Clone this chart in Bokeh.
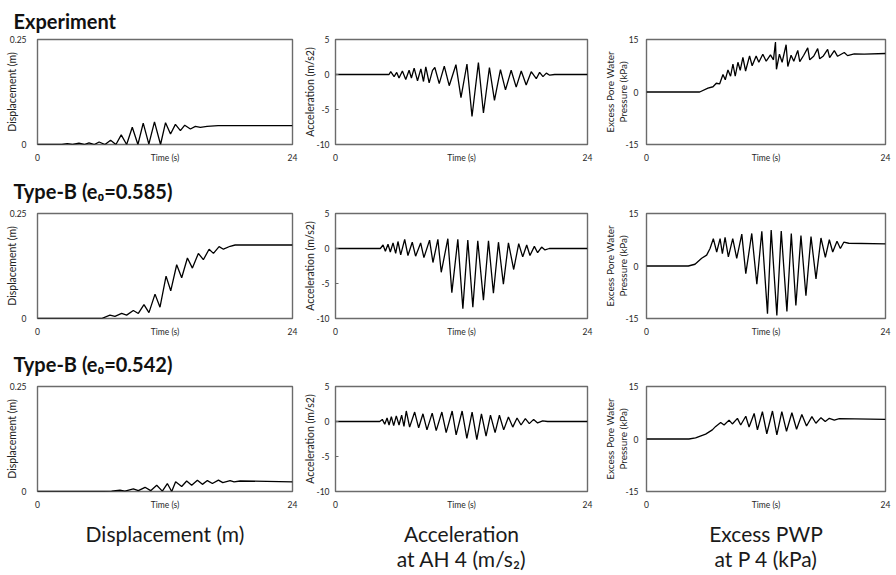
from bokeh.plotting import figure
from bokeh.layouts import column, row
from bokeh.models import Range1d, FixedTicker, Title
from bokeh.embed import file_html
from bokeh.resources import INLINE

# ---------------- data ----------------
row_titles = ["Experiment", "Type-B (e\u2080=0.585)", "Type-B (e\u2080=0.542)"]
col_footers = ["Displacement (m)", "Acceleration\nat AH 4 (m/s\u2082)", "Excess PWP\nat P 4 (kPa)"]
y_labels = ["Displacement (m)", "Acceleration (m/s2)", "Excess Pore Water\nPressure (kPa)"]
x_ticks = [0, 12, 24]
x_tick_labels = ["0", "Time (s)", "24"]
disp_ticks = [0, 0.25]
disp_tick_labels = ["0", "0.25"]
acc_ticks = [-10, -5, 0, 5]
acc_tick_labels = ["-10", "-5", "0", "5"]
pwp_ticks = [-15, 0, 15]
pwp_tick_labels = ["-15", "0", "15"]

# Experiment
t_disp_exp = [0, 1.6, 2.3, 2.8, 3.3, 3.9, 4.4, 4.85, 5.35, 5.8, 6.35, 6.88, 7.38, 7.88, 8.39,
              8.92, 9.45, 9.95, 10.48, 11.01, 11.58, 12.05, 12.52, 12.98, 13.45, 13.86, 14.39,
              14.86, 15.33, 15.96, 17.0, 20.0, 24.0]
disp_exp = [0, 0, 0, 0.002, 0, 0.003, 0, 0.004, 0, 0.006, 0, 0.010, 0, 0.023, 0,
            0.041, 0, 0.051, 0.001, 0.054, 0, 0.052, 0.025, 0.048, 0.033, 0.046, 0.037,
            0.043, 0.041, 0.043, 0.045, 0.045, 0.045]

t_acc_exp = [0, 5.1, 5.26, 5.58, 5.83, 6.05, 6.37, 6.69, 7.01, 7.23, 7.49, 7.81, 8.13, 8.38,
             8.6, 8.92, 9.24, 9.46, 9.88, 10.36, 10.83, 11.47, 11.95, 12.52, 13.0, 13.61,
             14.09, 14.66, 15.14, 15.71, 16.19, 16.73, 17.21, 17.69, 18.16, 18.64, 19.12,
             19.44, 19.76, 20.08, 20.4, 20.87, 24.0]
acc_exp = [0, 0, 0.4, -0.3, 0.3, -0.5, 0.5, -0.7, 0.6, -0.5, 0.9, -0.9, 0.8, -1.0,
           1.1, -1.2, 0.6, 1.0, -1.3, 1.2, -1.6, 1.4, -3.3, 1.5, -6.0, 1.7,
           -5.5, 1.0, -3.7, 0.7, -2.2, 0.6, -1.8, 0.5, -1.5, 0.4, -0.6,
           0.3, -0.3, 0.2, -0.1, 0, 0]

t_pwp_exp = [0, 5.34, 6.17, 6.68, 7.01, 7.34, 7.68, 7.91, 8.18, 8.44, 8.68, 8.91, 9.18, 9.41,
             9.68, 9.95, 10.35, 10.61, 11.01, 11.28, 11.68, 12.02, 12.45, 12.75, 12.95, 13.05,
             13.35, 13.62, 14.02, 14.19, 14.52, 14.79, 15.19, 15.39, 15.79, 16.19, 16.39,
             16.79, 17.19, 17.39, 17.76, 18.19, 18.39, 18.86, 19.19, 19.86, 20.19, 20.86,
             21.86, 24.0]
pwp_exp = [0, 0, 1.1, 1.5, 2.5, 2.3, 5.0, 3.5, 6.3, 4.5, 8.0, 4.5, 8.5, 6.2,
           9.9, 6.0, 10.3, 7.5, 10.3, 8.5, 10.8, 8.8, 10.6, 9.2, 14.3, 6.5,
           10.8, 8.5, 13.5, 7.3, 10.5, 8.8, 11.9, 8.7, 10.5, 12.6, 9.2,
           10.2, 12.4, 9.5, 10.3, 12.2, 9.8, 11.8, 10.2, 11.3, 10.4, 10.9,
           10.8, 11.0]

# Type-B (e0=0.585)
t_disp_585 = [0, 6.03, 6.82, 7.29, 7.92, 8.39, 9.02, 9.49, 10.02, 10.49, 11.06, 11.53, 12.1,
              12.54, 13.1, 13.57, 14.11, 14.58, 15.14, 15.61, 16.15, 16.56, 17.09, 17.5,
              18.13, 18.6, 24.0]
disp_585 = [0, 0, 0.008, 0.005, 0.012, 0.008, 0.019, 0.012, 0.033, 0.014, 0.058, 0.027, 0.101,
            0.066, 0.128, 0.097, 0.144, 0.12, 0.155, 0.14, 0.165, 0.155, 0.171, 0.165,
            0.172, 0.175, 0.175]

t_acc_585 = [0, 4.27, 4.53, 4.75, 5.0, 5.22, 5.48, 5.73, 5.95, 6.21, 6.59, 6.9, 7.31, 7.63,
             8.11, 8.42, 8.96, 9.28, 9.75, 10.07, 10.7, 11.08, 11.65, 12.13, 12.6, 13.08,
             13.55, 14.09, 14.57, 15.04, 15.52, 15.99, 16.47, 16.97, 17.45, 17.83, 18.21,
             18.52, 18.94, 19.25, 19.63, 19.95, 20.36, 24.0]
acc_585 = [0, 0, 0.5, -0.4, 0.6, -0.5, 0.8, -0.7, 1.0, -0.9, 1.3, -1.0, 0.9, -1.1,
           0.8, -1.3, 1.2, -2.0, 1.3, -3.4, 1.4, -6.3, 1.3, -8.6, 1.2, -8.4,
           1.1, -7.4, 1.1, -6.4, 0.9, -5.1, 0.8, -3.0, 0.7, -1.2, 0.5,
           -1.0, 0.3, -0.6, 0.2, -0.2, 0, 0]

t_pwp_585 = [0, 4.2, 4.87, 5.54, 6.04, 6.38, 6.71, 7.05, 7.39, 7.62, 7.89, 8.22, 8.66, 9.06,
             9.57, 9.97, 10.57, 11.08, 11.58, 12.15, 12.52, 13.09, 13.53, 14.1, 14.54, 15.0,
             15.51, 16.01, 16.52, 17.02, 17.52, 17.96, 18.36, 18.7, 19.13, 19.47, 19.81,
             20.31, 24.0]
pwp_585 = [0, 0, 0.5, 2.2, 3.1, 5.0, 7.8, 4.0, 7.8, 3.5, 8.2, 2.6, 7.8, 2.2,
           9.1, -2.2, 9.3, -5.2, 9.9, -13.6, 10.3, -14.1, 10.0, -13.0, 9.3, -11.3,
           8.7, -8.5, 8.4, -3.7, 8.0, 2.5, 7.5, 4.0, 7.1, 5.0, 6.8,
           6.5, 6.3]

# Type-B (e0=0.542)
t_disp_542 = [0, 5.87, 6.97, 7.76, 8.23, 9.02, 9.49, 10.12, 10.65, 11.22, 11.75, 12.22, 12.63,
              13.0, 13.57, 14.04, 14.51, 15.05, 15.52, 15.99, 16.46, 17.03, 17.44, 18.13,
              18.5, 19.07, 24.0]
disp_542 = [0, 0, 0.001, 0.003, 0.001, 0.006, 0.002, 0.010, 0.002, 0.015, 0.001, 0.019, 0.0,
            0.023, 0.012, 0.025, 0.015, 0.027, 0.017, 0.026, 0.019, 0.027, 0.021, 0.026,
            0.023, 0.025, 0.023]

t_acc_542 = [0, 4.21, 4.46, 4.69, 4.91, 5.1, 5.32, 5.54, 5.79, 6.05, 6.3, 6.52, 6.74, 7.06,
             7.54, 7.92, 8.33, 8.71, 9.21, 9.59, 10.13, 10.54, 11.11, 11.49, 12.06, 12.51,
             13.01, 13.46, 13.9, 14.34, 14.76, 15.2, 15.61, 16.02, 16.47, 16.88, 17.29,
             17.67, 18.08, 18.46, 18.87, 19.25, 19.73, 20.2, 24.0]
acc_542 = [0, 0, 0.3, -0.4, 0.5, -0.5, 0.7, -0.6, 0.8, -0.5, 0.9, -0.7, 1.5, -0.8,
           1.35, -0.9, 1.1, -1.2, 1.2, -1.3, 1.35, -1.6, 1.5, -1.9, 1.5, -2.4,
           1.35, -2.6, 1.1, -2.1, 0.9, -1.6, 0.9, -1.2, 0.65, -0.8, 0.5,
           -0.5, 0.4, -0.3, 0.3, -0.2, 0.1, 0, 0]

t_pwp_542 = [0, 4.26, 4.93, 5.94, 6.61, 6.95, 7.45, 7.79, 8.29, 8.62, 9.13, 9.46, 9.97, 10.3,
             10.81, 11.14, 11.64, 12.08, 12.65, 13.09, 13.59, 14.06, 14.6, 15.07, 15.6,
             16.07, 16.61, 17.01, 17.52, 17.95, 18.36, 18.86, 19.36, 24.0]
pwp_542 = [0, 0, 0.3, 1.4, 2.6, 3.6, 4.7, 4.0, 5.4, 4.3, 5.9, 4.0, 6.5, 3.4,
           7.3, 2.6, 7.8, 1.5, 8.0, 1.2, 7.8, 2.2, 7.5, 2.8, 7.0,
           3.7, 6.4, 4.5, 6.1, 5.0, 5.9, 5.4, 5.8, 5.6]

rows_data = [
    [(t_disp_exp, disp_exp), (t_acc_exp, acc_exp), (t_pwp_exp, pwp_exp)],
    [(t_disp_585, disp_585), (t_acc_585, acc_585), (t_pwp_585, pwp_585)],
    [(t_disp_542, disp_542), (t_acc_542, acc_542), (t_pwp_542, pwp_542)],
]

# ---------------- styling / layout ----------------
FONT = "Lato"
FRAME = "#6b6b6b"
col_yrange = [(0, 0.25), (-10, 5), (-15, 15)]
col_yticks = [(disp_ticks, disp_tick_labels), (acc_ticks, acc_tick_labels), (pwp_ticks, pwp_tick_labels)]
col_widths = [300, 295, 297]
col_bl = [37, 35, 51]
col_br = [8, 8, 7]
col_tick_standoff = [11, 6, 8]
col_ylabel_standoff = [-11, -3, -7]
col_ylabel_size = ["10.5px", "10.5px", "10px"]
col_tick_in = [0, 3, 0]
row_heights = [165, 174, 235]
row_bt = [38, 47, 46]
row_bb = [19, 19, 81]
title_standoff = [13, 22, 21]


def make_panel(r, c):
    t, v = rows_data[r][c]
    ylo, yhi = col_yrange[c]
    p = figure(width=col_widths[c], height=row_heights[r],
               x_range=Range1d(0, 24), y_range=Range1d(ylo, yhi),
               output_backend="svg", toolbar_location=None,
               min_border_left=col_bl[c], min_border_right=col_br[c],
               min_border_top=row_bt[r], min_border_bottom=row_bb[r])
    p.line(t, v, line_color="black", line_width=1.3)
    p.grid.visible = False
    p.outline_line_color = FRAME
    p.outline_line_width = 1.4
    p.outline_line_alpha = 1.0
    p.background_fill_color = "white"
    p.border_fill_color = "white"

    xa = p.xaxis[0]
    xa.ticker = FixedTicker(ticks=x_ticks)
    xa.major_label_overrides = {k: s for k, s in zip(x_ticks, x_tick_labels)}
    xa.axis_line_color = None
    xa.major_tick_line_color = None
    xa.minor_tick_line_color = None
    xa.major_tick_out = 0
    xa.major_tick_in = 0
    xa.minor_tick_out = 0
    xa.minor_tick_in = 0
    xa.major_label_standoff = 8
    xa.major_label_text_font = FONT
    xa.major_label_text_font_size = "8.5px"
    xa.major_label_text_color = "#262626"

    ya = p.yaxis[0]
    yt, yl = col_yticks[c]
    ya.ticker = FixedTicker(ticks=yt)
    ya.major_label_overrides = {k: s for k, s in zip(yt, yl)}
    ya.axis_line_color = None
    ya.major_tick_line_color = FRAME if col_tick_in[c] else None
    ya.minor_tick_line_color = None
    ya.major_tick_out = 0
    ya.major_tick_in = col_tick_in[c]
    ya.minor_tick_out = 0
    ya.minor_tick_in = 0
    ya.major_label_standoff = col_tick_standoff[c]
    ya.major_label_text_font = FONT
    ya.major_label_text_font_size = "8.5px"
    ya.major_label_text_color = "#262626"
    ya.axis_label = y_labels[c]
    ya.axis_label_text_font = FONT
    ya.axis_label_text_font_size = col_ylabel_size[c]
    ya.axis_label_text_font_style = "normal"
    ya.axis_label_text_color = "#222222"
    ya.axis_label_standoff = col_ylabel_standoff[c]
    ya.axis_label_text_line_height = 1.1

    if c == 0:
        p.title = Title(text=row_titles[r], align="left", offset=-24,
                        vertical_align="bottom",
                        text_font=FONT, text_font_size="20px",
                        text_font_style="bold", text_color="#111111",
                        standoff=title_standoff[r])
    if r == 2:
        xa.axis_label = col_footers[c]
        xa.axis_label_text_font = FONT
        xa.axis_label_text_font_size = "21px"
        xa.axis_label_text_font_style = "normal"
        xa.axis_label_text_color = "#1a1a1a"
        xa.axis_label_standoff = 8
        xa.axis_label_text_line_height = 1.03
    return p


layout_rows = []
for r in range(3):
    layout_rows.append(row(*[make_panel(r, c) for c in range(3)]))
layout = column(*layout_rows)

open("out.html", "w").write(file_html(layout, INLINE))
